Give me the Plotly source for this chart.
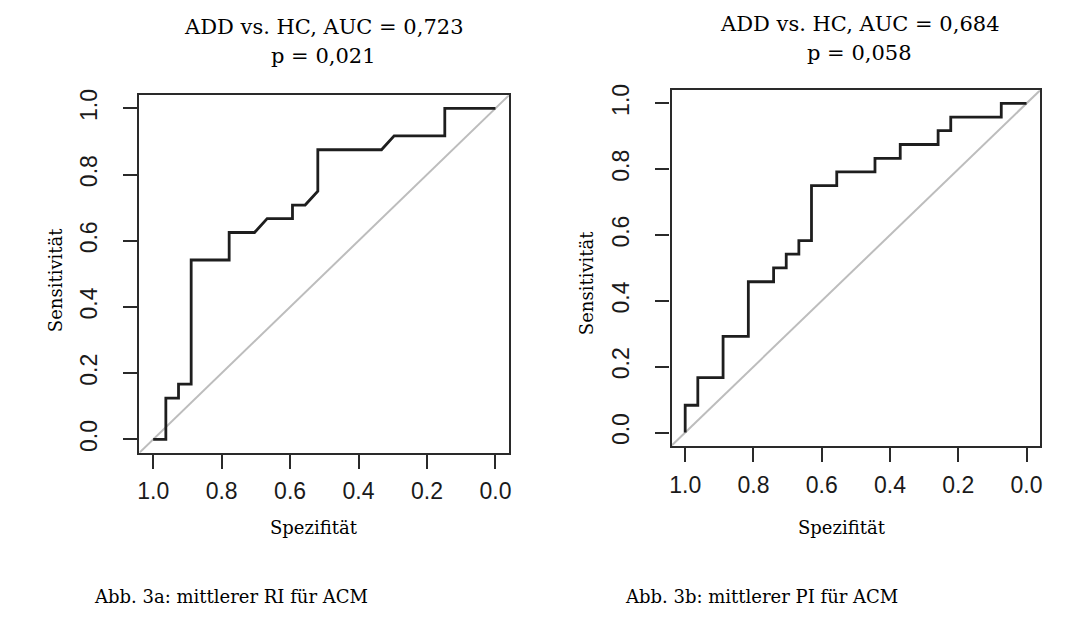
import plotly.graph_objects as go

# ---- data ----
spec_a = [1.0, 0.963, 0.963, 0.926, 0.926, 0.889, 0.889, 0.778, 0.778, 0.704, 0.667,
          0.593, 0.593, 0.556, 0.519, 0.519, 0.333, 0.296, 0.148, 0.148, 0.0]
sens_a = [0.0, 0.0, 0.125, 0.125, 0.167, 0.167, 0.542, 0.542, 0.625, 0.625, 0.667,
          0.667, 0.708, 0.708, 0.75, 0.875, 0.875, 0.917, 0.917, 1.0, 1.0]

spec_b = [1.0, 1.0, 0.963, 0.963, 0.889, 0.889, 0.815, 0.815, 0.741, 0.741, 0.704, 0.704,
          0.667, 0.667, 0.630, 0.630, 0.556, 0.556, 0.444, 0.444, 0.370, 0.370, 0.259,
          0.259, 0.222, 0.222, 0.074, 0.074, 0.0]
sens_b = [0.0, 0.083, 0.083, 0.167, 0.167, 0.292, 0.292, 0.458, 0.458, 0.5, 0.5, 0.542,
          0.542, 0.583, 0.583, 0.75, 0.75, 0.792, 0.792, 0.833, 0.833, 0.875, 0.875,
          0.917, 0.917, 0.958, 0.958, 1.0, 1.0]

tick_vals = [1.0, 0.8, 0.6, 0.4, 0.2, 0.0]
tick_text = ["1.0", "0.8", "0.6", "0.4", "0.2", "0.0"]

titles_a = ["ADD vs. HC, AUC = 0,723", "p = 0,021"]
titles_b = ["ADD vs. HC, AUC = 0,684", "p = 0,058"]
x_title = "Spezifität"
y_title = "Sensitivität"
caption_a = "Abb. 3a: mittlerer RI für ACM"
caption_b = "Abb. 3b: mittlerer PI für ACM"

# ---- layout constants ----
W, H = 1092, 622
X_RANGE = [1.04, -0.04]
Y_RANGE = [-0.04, 1.04]
diag_x = X_RANGE
diag_y = [1 - v for v in X_RANGE]

SERIF = "DejaVu Serif"
SANS = "Liberation Sans, Arial, sans-serif"

fig = go.Figure()

for i, (sx, sy) in enumerate([(spec_a, sens_a), (spec_b, sens_b)]):
    xa = "x" if i == 0 else "x2"
    ya = "y" if i == 0 else "y2"
    fig.add_trace(go.Scatter(x=diag_x, y=diag_y, mode="lines",
                             line=dict(color="#bdbdbd", width=2),
                             xaxis=xa, yaxis=ya, showlegend=False, hoverinfo="skip"))
    fig.add_trace(go.Scatter(x=sx, y=sy, mode="lines",
                             line=dict(color="#1e1e1e", width=2.8),
                             xaxis=xa, yaxis=ya, showlegend=False))


def px_x(p):
    return p / W


def px_y(p):
    return (H - p) / H


axis_common = dict(
    showgrid=False, zeroline=False, showline=True, mirror=True,
    linecolor="#2a2a2a", linewidth=2.4,
    ticks="outside", ticklen=14, tickwidth=2, tickcolor="#2a2a2a",
    tickvals=tick_vals, ticktext=tick_text,
    tickfont=dict(family=SANS, size=23, color="#1a1a1a"),
)

fig.update_layout(
    width=W, height=H,
    margin=dict(l=0, r=0, t=0, b=0),
    paper_bgcolor="white", plot_bgcolor="white",
    xaxis=dict(domain=[px_x(138), px_x(509)], range=X_RANGE, anchor="y",
               ticklabelstandoff=3, **axis_common),
    yaxis=dict(domain=[px_y(451), px_y(90)], range=Y_RANGE, anchor="x",
               tickangle=-90, ticklabelstandoff=17, **axis_common),
    xaxis2=dict(domain=[px_x(672), px_x(1042)], range=X_RANGE, anchor="y2",
                ticklabelstandoff=3, **axis_common),
    yaxis2=dict(domain=[px_y(444), px_y(85)], range=Y_RANGE, anchor="x2",
                tickangle=-90, ticklabelstandoff=17, **axis_common),
    showlegend=False,
)

ann = []


def add_text(text, x, y, size, xanchor="center", angle=0):
    ann.append(dict(text=text, x=px_x(x), y=px_y(y), xref="paper", yref="paper",
                    showarrow=False, xanchor=xanchor, yanchor="middle", textangle=angle,
                    font=dict(family=SERIF, size=size, color="#000000")))


add_text(titles_a[0], 323, 21, 21)
add_text(titles_a[1], 323, 50, 21)
add_text(titles_b[0], 861, 18, 21)
add_text(titles_b[1], 861, 47, 21)
add_text(x_title, 313, 527, 18)
add_text(x_title, 843, 527, 18)
add_text(y_title, 54, 277, 18, angle=-90)
add_text(y_title, 586, 280, 18, angle=-90)
add_text(caption_a, 90, 596, 18, xanchor="left")
add_text(caption_b, 623, 596, 18, xanchor="left")

fig.update_layout(annotations=ann)

fig.write_html("out.html")
